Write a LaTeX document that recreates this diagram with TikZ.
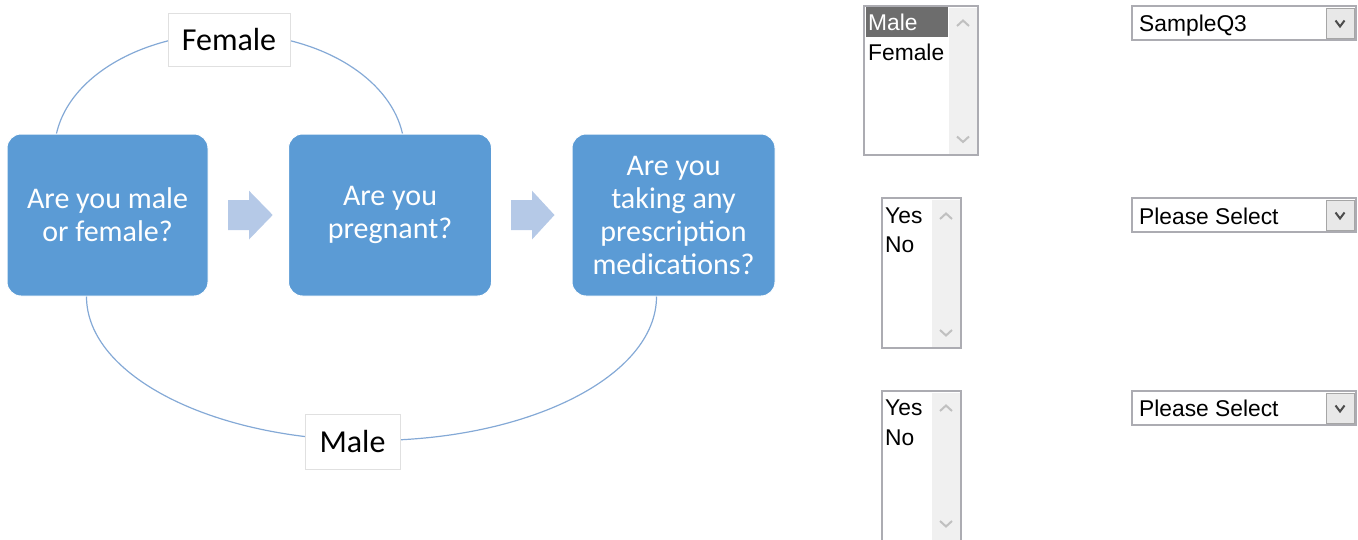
\documentclass[tikz,border=0pt]{standalone}
\usepackage{fontspec}
\setmainfont{Carlito}
\newfontfamily\formfont{Liberation Sans}
\usetikzlibrary{calc}
\definecolor{boxblue}{RGB}{91,155,213}
\definecolor{arrblue}{RGB}{181,201,231}
\definecolor{arcblue}{RGB}{132,169,214}
\definecolor{frame}{RGB}{172,172,178}
\definecolor{scroll}{RGB}{240,240,240}
\definecolor{chev}{RGB}{192,192,192}
\definecolor{btn}{RGB}{232,232,232}
\definecolor{hilite}{RGB}{109,109,109}
\tikzset{
  qbox/.style={rectangle, rounded corners=14pt, fill=boxblue, draw=white, line width=1pt,
    minimum height=162pt, text=white, align=center, inner sep=0pt,
    font=\fontsize{30}{33}\selectfont},
  lbl/.style={rectangle, fill=white, draw=black!12, line width=0.6pt, inner sep=0pt,
    font=\fontsize{32}{34}\selectfont},
  arcline/.style={draw=arcblue, line width=1.2pt},
  blockarrow/.style={fill=arrblue},
  ftext/.style={anchor=west, inner sep=0pt, text height=16pt, text depth=0pt,
    font=\formfont\fontsize{22.8}{26}\selectfont},
  frm/.style={draw=frame, line width=1.6pt, fill=white},
  sb/.style={fill=scroll},
  chv/.style={draw=chev, line width=2pt},
  dchv/.style={draw=black!70, line width=2pt},
  button/.style={fill=btn, draw=black!35, line width=1pt},
}
\begin{document}
\begin{tikzpicture}[x=1pt,y=-1pt]
\useasboundingbox (0,0) rectangle (1358,539);
\node[qbox, minimum width=201pt] (q1) at (107.5,215) {Are you male\\or female?};
\node[qbox, minimum width=203pt] (q2) at (390,215) {Are you\\pregnant?};
\node[qbox, minimum width=203pt] (q3) at (673.5,215) {Are you\\taking any\\prescription\\medications?};
\draw[arcline] ([xshift=50pt]q1.north west) arc[start angle=171.3, end angle=8.7, x radius=175pt, y radius=118pt];
\draw[arcline] ([xshift=80pt]q1.south west) arc[start angle=180, end angle=360, x radius=285pt, y radius=144pt];
\node[lbl, minimum width=122pt, minimum height=53pt] (lf) at (229,39.5) {Female};
\node[lbl, minimum width=95pt, minimum height=55pt] (lm) at (352.5,441.5) {Male};
% block arrows
\fill[blockarrow] (228,200) -- (249,200) -- (249,190.7) -- (272.7,215) -- (249,239.5) -- (249,230) -- (228,230) -- cycle;
\fill[blockarrow] (511,200) -- (532,200) -- (532,190.7) -- (554.5,215) -- (532,239.5) -- (532,230) -- (511,230) -- cycle;
% list box 1
\draw[frm] (864,6) rectangle (978,155);
\fill[sb] (949,8) rectangle (977,154);
\draw[chv] (957,26) -- (963,20.5) -- (969,26);
\draw[chv] (957,136.5) -- (963,142) -- (969,136.5);
\fill[hilite] (866,7) rectangle (948,37);
\node[ftext, text=white] (m1) at (868,22.5) {Male};
\node[ftext] (f1) at (868,52.5) {Female};
% dropdown 1
\draw[frm] (1132,6) rectangle (1356,40);
\draw[button] (1326,8) rectangle (1354,38);
\draw[dchv] (1335.5,20.5) -- (1340,26.5) -- (1344.5,20.5);
\node[ftext] (d1) at (1139,23.5) {SampleQ3};
% list box 2
\draw[frm] (882,198) rectangle (961,348);
\fill[sb] (932,200) rectangle (960,347);
\draw[chv] (940,219) -- (946,213.5) -- (952,219);
\draw[chv] (940,330) -- (946,335.5) -- (952,330);
\node[ftext] (y2) at (885,215) {Yes};
\node[ftext] (n2) at (885,244.5) {No};
% dropdown 2
\draw[frm] (1132,198) rectangle (1356,232);
\draw[button] (1326,200) rectangle (1354,230);
\draw[dchv] (1335.5,212.5) -- (1340,218.5) -- (1344.5,212.5);
\node[ftext] (d2) at (1139,216) {Please Select};
% list box 3
\draw[frm] (882,391) rectangle (961,570);
\fill[sb] (932,393) rectangle (960,569);
\draw[chv] (940,411) -- (946,405.5) -- (952,411);
\draw[chv] (940,521) -- (946,526.5) -- (952,521);
\node[ftext] (y3) at (885,407) {Yes};
\node[ftext] (n3) at (885,437) {No};
% dropdown 3
\draw[frm] (1132,391) rectangle (1356,425);
\draw[button] (1326,393) rectangle (1354,423);
\draw[dchv] (1335.5,405.5) -- (1340,411.5) -- (1344.5,405.5);
\node[ftext] (d3) at (1139,408.5) {Please Select};
\end{tikzpicture}
\end{document}
